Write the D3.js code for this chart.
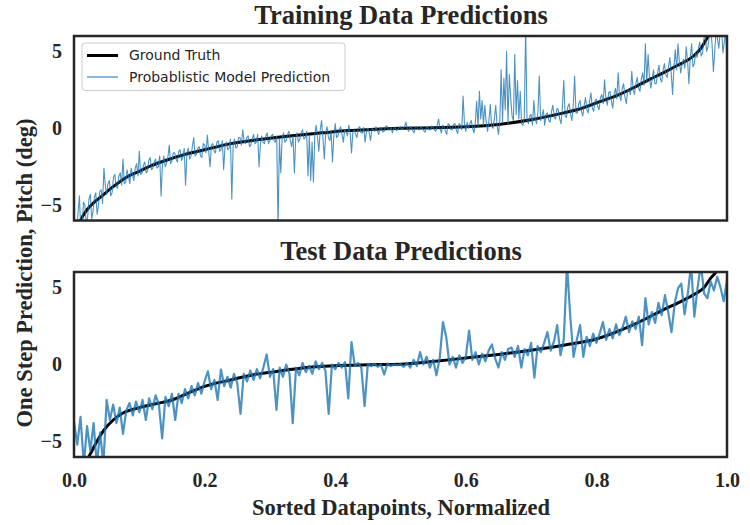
<!DOCTYPE html>
<html>
<head>
<meta charset="utf-8">
<script src="https://cdnjs.cloudflare.com/ajax/libs/d3/7.8.5/d3.min.js"></script>
<style>
    body { margin: 0; background: #fff; }
    svg { display: block; }
</style>
</head>
<body>
<div id="chart"></div>
<script>
// values, x is the normalized datapoint index
const train_truth_x = [0, 0.005, 0.01, 0.02, 0.03, 0.04, 0.06, 0.08, 0.10, 0.12, 0.14, 0.17, 0.20, 0.24, 0.28, 0.33, 0.38, 0.42, 0.46, 0.50,
    0.55, 0.60, 0.65, 0.70, 0.75, 0.77, 0.80, 0.83, 0.86, 0.88, 0.90, 0.92, 0.95, 0.96, 0.97, 0.98, 1.0];
const train_truth_y = [-7.5, -6.6, -6.0, -5.3, -4.85, -4.5, -3.8, -3.2, -2.8, -2.4, -2.1, -1.7, -1.4, -1.0, -0.75, -0.5, -0.3, -0.15, -0.07, 0.0,
    0.03, 0.1, 0.25, 0.55, 1.0, 1.2, 1.65, 2.1, 2.7, 3.15, 3.55, 4.0, 4.75, 5.2, 5.9, 6.6, 8.0];

const train_pred = [
    -5.2, -7.0, -6.5, -5.5, -4.4, -6.8, -6.3, -4.8, -5.0, -6.2, -5.8, -4.6, -4.3, -5.9, -5.4, -4.5, -4.2, -5.6, -5.0, -4.1, -4.0, -4.9, -2.6, -3.7, -4.3, -3.6,
    -3.4, -4.4, -4.2, -3.2, -3.0, -3.8, -3.9, -3.1, -2.9, -3.7, -2.0, -3.6, -3.5, -2.7, -3.1, -3.6, -2.6, -3.0, -3.4, -2.6, -2.3, -3.1, -1.5, -3.0,
    -2.9, -2.4, -2.2, -2.9, -2.8, -2.1, -1.9, -2.7, -2.6, -2.2, -2.0, -2.6, -2.5, -1.8, -4.4, -2.4, -1.8, -2.5, -2.3, -1.9, -1.1, -2.3, -2.1, -1.6,
    -1.6, -2.0, -2.2, -1.5, -1.4, -2.1, -1.9, -1.3, -3.7, -1.6, -1.3, -2.0, -1.8, -1.2, -0.6, -1.8, -1.7, -1.3, -1.2, -1.8, -1.9, -1.0, -1.1, -1.6,
    -0.45, -1.5, -2.5, -1.1, -1.0, -1.5, -1.6, -0.9, -0.8, -1.5, -1.4, -0.8, -2.7, -1.2, -0.9, -1.4, -1.3, -0.7, -4.6, -1.1, -0.7, -1.3, -1.2, -0.6,
    -0.6, -1.1, -0.1, -0.8, -1.0, -0.6, -0.5, -1.2, -1.1, -0.7, -0.4, -1.0, -0.9, -0.4, -2.5, -1.1, -0.5, -0.9, -1.0, -0.5, -0.3, -1.0, -0.8, -0.5,
    -0.4, -0.8, -0.9, -0.5, -6.5, -0.7, -2.9, -0.6, -0.3, -0.9, -0.8, -0.4, -0.2, -0.8, -1.2, -0.5, -2.9, -0.6, -0.3, -0.9, -0.7, -0.3, -0.1, -0.7,
    -0.6, -0.2, -3.1, -0.5, -3.4, -0.9, -3.5, -0.4, 0.2, -0.6, -1.5, -0.1, 0.5, -0.7, -2.0, -0.3, 0.1, -0.6, -0.8, -0.2, -2.2, -0.5, 0.3, -0.6,
    -0.5, -0.1, 0.1, -0.4, -0.9, -0.1, -0.2, -0.5, 0.2, -0.3, -1.6, -0.2, -0.1, -0.4, -0.6, 0.0, 0.1, -0.3, -0.3, 0.05, -0.9, -0.2, 0.0, -0.3,
    -0.8, 0.0, -0.1, -0.2, 0.1, -0.15, -0.4, 0.05, 0.0, -0.25, -0.2, 0.1, 0.15, -0.1, -0.1, 0.05, -0.3, 0.0, 0.05, -0.15, -0.1, 0.05, 0.1, -0.1,
    0.0, 0.1, 0.4, -0.05, -0.2, 0.1, 0.05, -0.15, -0.3, 0.1, 0.1, -0.1, -0.1, 0.1, 0.0, -0.15, -0.25, 0.05, 0.1, -0.1, -0.1, 0.15, 0.05, -0.1,
    -0.2, 0.2, 0.6, 0.0, -0.3, 0.2, 0.1, -0.2, -0.4, 0.3, 0.2, -0.1, -0.1, 0.25, 0.3, -0.1, -0.35, 0.3, 0.2, -0.1, 2.1, 0.3, -0.2, 0.4,
    0.0, 0.3, 0.5, 0.0, -0.3, 0.4, 1.75, 0.1, 2.4, 0.6, 1.8, 0.2, 1.5, 0.4, -0.2, 0.5, 1.55, 0.1, 0.0, 0.6, 1.5, 0.2, -0.4, 0.5,
    3.8, 0.4, 3.25, 1.2, 5.0, 0.3, 3.5, 2.0, 0.8, 0.5, 4.8, 0.9, 3.1, 0.6, 2.4, 0.3, 0.2, 0.7, 6.5, 0.5, 0.3, 0.8, 0.9, 0.2,
    1.8, 0.6, 0.3, 1.0, 3.4, 0.5, 0.8, 1.2, 0.2, 0.9, 1.0, 0.5, 0.4, 1.1, 1.5, 0.7, 0.6, 1.3, 1.2, 0.6, 0.3, 1.4, 3.1, 0.8,
    0.7, 1.4, 1.6, 0.9, 0.5, 1.5, 3.4, 1.0, 1.0, 1.6, 1.8, 1.1, 0.8, 1.5, 2.0, 1.2, 1.0, 1.8, 2.3, 1.3, 1.1, 1.8, 1.9, 1.4,
    1.2, 2.0, 2.2, 1.6, 3.15, 1.9, 1.5, 2.3, 2.4, 1.8, 1.3, 2.2, 2.6, 1.9, 3.6, 2.1, 1.8, 2.6, 2.9, 2.0, 1.6, 2.5, 2.5, 2.2,
    3.7, 2.5, 2.2, 2.9, 3.3, 2.6, 2.4, 3.2, 3.6, 2.8, 5.5, 3.0, 4.8, 3.3, 2.6, 3.2, 3.8, 2.9, 2.9, 3.6, 4.1, 3.2, 3.0, 3.8,
    4.2, 3.5, 3.3, 4.0, 4.6, 3.6, 2.2, 4.0, 5.1, 3.8, 5.5, 4.3, 3.6, 4.2, 4.5, 3.9, 5.3, 4.4, 2.9, 4.6, 5.5, 4.0, 4.2, 4.9,
    4.6, 5.2, 5.6, 4.7, 4.9, 5.8, 6.2, 5.0, 5.3, 6.0, 6.5, 5.5, 3.7, 5.0, 6.4, 5.8, 5.2, 6.3, 6.5, 4.9, 5.6, 6.4, 4.4
];

const test_truth_x = [0, 0.01, 0.02, 0.025, 0.035, 0.045, 0.06, 0.075, 0.10, 0.125, 0.15, 0.175, 0.20, 0.24, 0.275, 0.31, 0.35, 0.40, 0.45, 0.50,
    0.55, 0.60, 0.65, 0.70, 0.75, 0.80, 0.85, 0.875, 0.90, 0.925, 0.95, 0.965, 0.975, 0.985, 1.0];
const test_truth_y = [-8, -6.8, -6.2, -5.8, -5.0, -4.3, -3.6, -3.15, -2.8, -2.55, -2.3, -1.85, -1.42, -1.0, -0.66, -0.45, -0.22, -0.08, -0.02, 0.02,
    0.2, 0.42, 0.65, 0.92, 1.25, 1.65, 2.45, 2.95, 3.5, 4.0, 4.55, 5.0, 5.6, 6.1, 7.5];

const test_pred = [
    -3.7, -5.2, -3.4, -6.5, -4.0, -5.6, -3.8, -6.5, -4.4, -6.5, -2.3,
    -3.6, -2.6, -3.8, -2.8, -4.5, -3.0, -2.5, -3.3, -2.4, -3.1,
    -2.3, -3.6, -2.2, -2.9, -2.0, -2.6, -4.8, -2.1, -2.7, -1.9,
    -3.6, -1.9, -2.5, -1.6, -2.2, -1.4, -2.0, -1.2, -1.9, -1.1,
    -0.44, -1.6, -1.0, -2.3, -0.33, -1.4, -0.8, -1.5, -0.6, -1.2,
    -3.2, -0.6, -1.1, -0.4, -1.0, -0.3, -0.9, -0.2, 0.65, -0.8,
    -0.3, -2.95, -0.2, -0.8, 0.0, -0.6, -3.8, -0.2, -0.7, 0.1,
    -0.5, -0.1, -0.6, 0.2, -0.3, 0.1, -0.4, -3.2, 0.0, -0.3,
    0.1, -0.2, 0.15, -2.2, 1.45, -0.1, 0.1, -0.2, -2.7, 0.05,
    -0.1, 0.05, -0.15, 0.0, -0.65, 0.05, -0.1, 0.0, -0.05, 0.02,
    -0.15, 0.1, -0.2, 0.3, -0.1, 0.8, 0.0, 0.5, -0.2, 0.3,
    -0.7, 0.4, 2.75, 1.8, 0.0, 0.5, -0.2, 0.6, 0.1, 0.5,
    2.2, 0.3, 0.8, 0.0, 0.7, 0.2, 0.9, 1.3, 0.4, -0.2,
    0.8, 0.3, 1.0, 1.1, 0.5, 1.2, -0.2, 1.0, 0.6, 1.4,
    -0.85, 1.2, 0.8, 1.4, 2.1, 0.9, 1.5, 2.55, 0.6, 1.6,
    6.5, 3.1, 0.5, 1.6, 2.55, 0.5, 1.8, 1.2, 2.0, 1.4,
    2.0, 2.75, 1.6, 2.3, 1.7, 2.6, 1.9, 2.4, 3.1, 2.1,
    2.8, 2.3, 3.1, 1.25, 4.3, 2.6, 3.4, 2.7, 4.0, 3.2,
    4.5, 3.4, 2.1, 4.0, 4.95, 5.25, 3.25, 4.6, 6.5, 3.1,
    5.0, 6.5, 4.6, 4.3, 5.4, 4.8, 5.7, 5.0, 4.1, 5.5
];

const x_ticks = [0, 0.2, 0.4, 0.6, 0.8, 1.0];
const y_ticks = [-5, 0, 5];
const panel_titles = ["Training Data Predictions", "Test Data Predictions"];
const legend_labels = ["Ground Truth", "Probablistic Model Prediction"];

const W = 750, H = 525;
const margin = {left: 74, right: 23};
const serif = "'Liberation Serif', 'Times New Roman', serif";
const ink = "#262626";
const blue = "#1f77b4";

const svg = d3.select("#chart").append("svg")
    .attr("width", W)
    .attr("height", H);

const x = d3.scaleLinear().domain([0, 1]).range([margin.left, W - margin.right]);

const panels = [
    {title: panel_titles[0], top: 36, bottom: 220.5, tx: train_truth_x, ty: train_truth_y, pred: train_pred, lw: 1.1, xaxis: false},
    {title: panel_titles[1], top: 272, bottom: 457, tx: test_truth_x, ty: test_truth_y, pred: test_pred, lw: 2.2, xaxis: true}
];

panels.forEach(function (p, ix) {
    const y = d3.scaleLinear().domain([-6, 6]).range([p.bottom, p.top]);
    const g = svg.append("g");

    svg.append("clipPath").attr("id", "clip" + ix)
        .append("rect")
        .attr("x", x(0)).attr("y", p.top)
        .attr("width", x(1) - x(0)).attr("height", p.bottom - p.top);

    const plot = g.append("g").attr("clip-path", "url(#clip" + ix + ")");

    const truth = p.tx.map((d, i) => [d, p.ty[i]]);
    plot.append("path")
        .datum(truth)
        .attr("fill", "none")
        .attr("stroke", "#000")
        .attr("stroke-width", 3)
        .attr("d", d3.line().x(d => x(d[0])).y(d => y(d[1])).curve(d3.curveMonotoneX));

    const n = p.pred.length - 1;
    plot.append("path")
        .datum(p.pred)
        .attr("fill", "none")
        .attr("stroke", blue)
        .attr("stroke-opacity", 0.8)
        .attr("stroke-width", p.lw)
        .attr("stroke-linejoin", "round")
        .attr("d", d3.line().x((d, i) => x(i / n)).y(d => y(d)));

    // y axis, no tick marks
    const ya = g.append("g")
        .attr("transform", "translate(" + margin.left + ",0)")
        .call(d3.axisLeft(y).tickValues(y_ticks).tickSize(0).tickPadding(12));
    ya.select(".domain").remove();
    ya.selectAll("text")
        .style("font-family", serif)
        .style("font-weight", "bold")
        .style("font-size", "20px")
        .attr("fill", ink);

    if (p.xaxis) {
        const xa = g.append("g")
            .attr("transform", "translate(0," + p.bottom + ")")
            .call(d3.axisBottom(x).tickValues(x_ticks).tickFormat(d3.format(".1f")).tickSize(0).tickPadding(16));
        xa.select(".domain").remove();
        xa.selectAll("text")
            .style("font-family", serif)
            .style("font-weight", "bold")
            .style("font-size", "20px")
            .attr("fill", ink);
    }

    g.append("rect")
        .attr("x", x(0)).attr("y", p.top)
        .attr("width", x(1) - x(0)).attr("height", p.bottom - p.top)
        .attr("fill", "none")
        .attr("stroke", ink)
        .attr("stroke-width", 2.5);

    svg.append("text")
        .attr("x", 401)
        .attr("y", p.top - 12)
        .attr("text-anchor", "middle")
        .style("font-family", serif)
        .style("font-weight", "bold")
        .style("font-size", "26.5px")
        .attr("fill", ink)
        .text(p.title);
});

// legend in the top panel
const lg = svg.append("g");
lg.append("rect")
    .attr("x", 82).attr("y", 43)
    .attr("width", 263).attr("height", 47.5)
    .attr("rx", 3)
    .attr("fill", "#fff").attr("fill-opacity", 0.8)
    .attr("stroke", "#cccccc").attr("stroke-width", 1);

legend_labels.forEach(function (lab, i) {
    const ly = 55.5 + i * 21.5;
    lg.append("line")
        .attr("x1", 87).attr("x2", 118)
        .attr("y1", ly).attr("y2", ly)
        .attr("stroke", i === 0 ? "#000" : blue)
        .attr("stroke-opacity", i === 0 ? 1 : 0.8)
        .attr("stroke-width", i === 0 ? 3 : 1.3);
    lg.append("text")
        .attr("x", 129).attr("y", ly)
        .attr("dy", "0.35em")
        .style("font-family", "'DejaVu Sans', sans-serif")
        .style("font-size", "14px")
        .attr("fill", ink)
        .text(lab);
});

svg.append("text")
    .attr("x", 401)
    .attr("y", 515)
    .attr("text-anchor", "middle")
    .style("font-family", serif)
    .style("font-weight", "bold")
    .style("font-size", "22.5px")
    .attr("fill", ink)
    .text("Sorted Datapoints, Normalized");

svg.append("text")
    .attr("transform", "translate(32,273) rotate(-90)")
    .attr("text-anchor", "middle")
    .style("font-family", serif)
    .style("font-weight", "bold")
    .style("font-size", "22.5px")
    .attr("fill", ink)
    .text("One Step Prediction, Pitch (deg)");
</script>
</body>
</html>
